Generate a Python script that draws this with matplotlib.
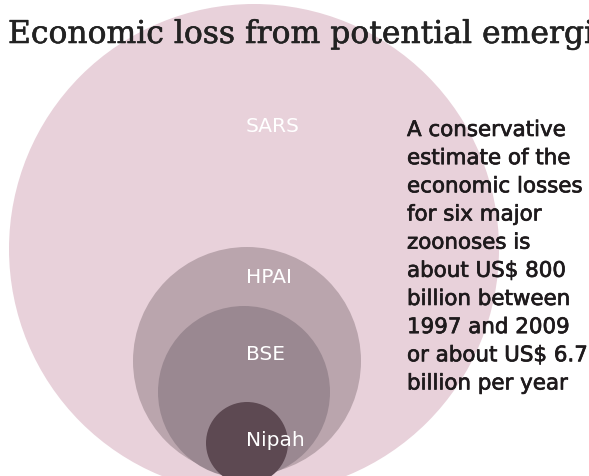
import matplotlib
matplotlib.use("Agg")
import matplotlib.pyplot as plt
import matplotlib.patheffects as pe
from matplotlib.patches import Circle

# circle sizes (radius, in pixels of the 589x477 canvas), outer to inner
names = ["SARS", "HPAI", "BSE", "Nipah"]
radii = [245, 114, 86, 41]

# layout of the nested circles and where each label sits
centre_x = [254, 247, 244, 247]
centre_y = [250, 362, 393, 444]
label_y = [127, 278, 355, 441]
colours = ["#e8d1da", "#baa5ad", "#9a8891", "#5d4952"]

title = "Economic loss from potential emerging zoonoses"
note = ("A conservative\nestimate of the\neconomic losses\nfor six major\n"
        "zoonoses is\nabout US$ 800\nbillion between\n1997 and 2009\n"
        "or about US$ 6.7\nbillion per year")

fig = plt.figure(figsize=(5.89, 4.77), dpi=100)
ax = fig.add_axes([0, 0, 1, 1])
ax.set_xlim(0, 589)
ax.set_ylim(477, 0)
ax.set_aspect("equal")
ax.axis("off")

for i in range(len(names)):
    ax.add_patch(Circle((centre_x[i], centre_y[i]), radii[i],
                        facecolor=colours[i], edgecolor="none", zorder=i + 1))
    ax.text(246, label_y[i], names[i], color="white", fontsize=14.5,
            family="DejaVu Sans", ha="left", va="center", zorder=10)

# slight stroke to get the heavier print look of the original
ax.text(8, 44, title, fontsize=22.6, family="DejaVu Serif", color="#222222",
        ha="left", va="baseline", zorder=10,
        path_effects=[pe.withStroke(linewidth=0.4, foreground="#222222")])

ax.text(407, 121, note, fontsize=15.4, family="DejaVu Sans", color="#1e1a1c",
        ha="left", va="top", linespacing=1.51, zorder=10,
        path_effects=[pe.withStroke(linewidth=0.5, foreground="#1e1a1c")])

fig.savefig("out.png", dpi=100)
